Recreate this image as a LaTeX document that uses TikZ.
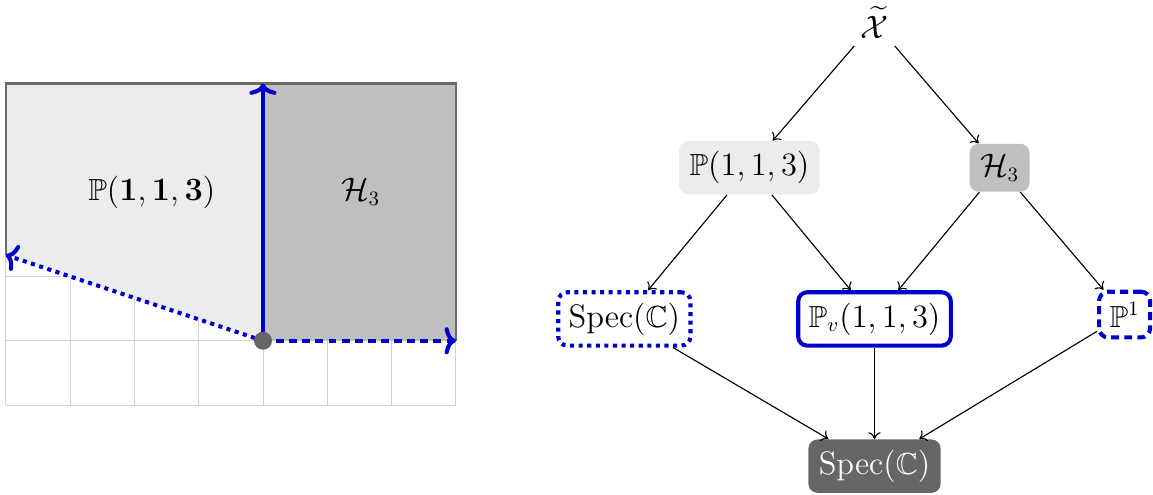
\documentclass[tikz,border=0pt]{standalone}
\usepackage{amsmath,amssymb}
\usetikzlibrary{arrows.meta}

\definecolor{deepblue}{RGB}{0,0,204}
\tikzset{
    lbl/.style={font=\fontsize{13.5}{16}\selectfont},
    box/.style={lbl, rounded corners=4pt, inner sep=4.6pt},
    ray/.style={deepblue, line width=1.8pt, -{To[width=12pt,length=5pt]}},
    map/.style={line width=0.5pt, -{To[width=5.5pt,length=3pt]}},
    bluebox/.style={box, draw=deepblue, line width=1.8pt},
    gridline/.style={gray!35, line width=0.4pt}
}

\begin{document}
\begin{tikzpicture}
        % keep the page as large as the whole figure
        \useasboundingbox (-4.09,-2.384) rectangle (13.841,5.299);
        % light grid under the two cones
        \draw[gridline] (-4,-1) grid (3,4);
        % cone of P(1,1,3)
        \fill[gray!15] (0,0) -- (-4,4/3) -- (-4,4) -- (0,4) -- cycle;
        % cone of H_3
        \fill[gray!50] (0,0) -- (0,4) -- (3,4) -- (3,0) -- cycle;
        % outer edge of the chart
        \draw[black!58, line width=1pt] (-4,4/3) -- (-4,4) -- (3,4) -- (3,0);
        % names of the cones
        \node[lbl] (conea) at (-1.73,2.31) {$\mathbb{P}(\mathbf{1},\mathbf{1},\mathbf{3})$};
        \node[lbl] (coneb) at (1.52,2.31) {$\mathcal{H}_3$};
        % origin and ends of the three rays
        \coordinate (o) at (0,0);
        \coordinate (rayl) at (-4,4/3);
        \coordinate (rayu) at (0,4);
        \coordinate (rayr) at (3,0);
        \draw[ray, dotted] (o) -- (rayl);
        \draw[ray] (o) -- (rayu);
        \draw[ray, dash pattern=on 3.5pt off 2.3pt] (o) -- (rayr);
        % dot on the origin
        \fill[black!60] (o) circle (0.14);

        % the tower of spaces
        \node[lbl] (xt) at (9.51,4.95) {$\widetilde{\mathcal{X}}$};
        \node[box, fill=gray!15] (p113) at (7.565,2.69) {$\mathbb{P}(1,1,3)$};
        \node[box, fill=gray!50] (h3) at (11.455,2.69) {$\mathcal{H}_3$};
        \node[bluebox, dotted, anchor=base] (specpt) at (5.62,0.213) {$\mathrm{Spec}(\mathbb{C})$};
        \node[bluebox, anchor=base] (pv) at (9.51,0.213) {$\mathbb{P}_v(1,1,3)$};
        \node[bluebox, dash pattern=on 3.5pt off 2.3pt, anchor=base] (p1) at (13.40,0.213) {$\mathbb{P}^1$};
        \node[box, fill=black!60, text=white] (spec) at (9.51,-1.95) {$\mathrm{Spec}(\mathbb{C})$};
        % maps between them
        \draw[map] (xt) -- (p113);
        \draw[map] (xt) -- (h3);
        \draw[map] (p113) -- (specpt);
        \draw[map] (p113) -- (pv);
        \draw[map] (h3) -- (pv);
        \draw[map] (h3) -- (p1);
        \draw[map] (specpt) -- (spec);
        \draw[map] (pv) -- (spec);
        \draw[map] (p1) -- (spec);
    \end{tikzpicture}
\end{document}
